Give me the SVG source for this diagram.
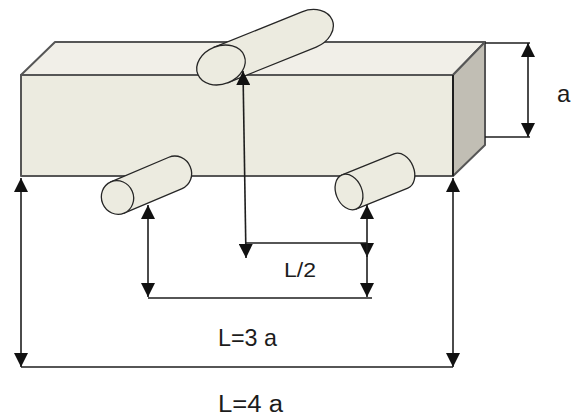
<svg xmlns="http://www.w3.org/2000/svg" width="576" height="418" viewBox="0 0 576 418">
  <style>
    .face { stroke: #565656; stroke-width: 2; stroke-linejoin: round; }
    .roll { fill: #ecebe0; stroke: #262626; stroke-width: 1.3; }
    .dim { fill: none; stroke: #1e1e1e; stroke-width: 1.6; }
    .arr { marker-start: url(#ah); marker-end: url(#ah); }
    .arrEnd { marker-end: url(#ah); }
    .lbl { font-family: "Liberation Sans", Arial, sans-serif; fill: #1c1c1c; }
  </style>
  <defs>
    <marker id="ah" viewBox="0 0 14 14" refX="14" refY="7" markerWidth="14" markerHeight="14" markerUnits="userSpaceOnUse" orient="auto-start-reverse">
      <path d="M0,0 L14,7 L0,14 z" fill="#111"/>
    </marker>
  </defs>

  <rect width="576" height="418" fill="#fff"/>

  <!-- beam: top, right and front faces -->
  <g id="beam">
    <polygon class="face" points="21,75 55,42 485,42 453,75" fill="#f1efe8"/>
    <polygon class="face" points="453,75 485,42 485,145 453,176" fill="#c1beb4"/>
    <rect class="face" x="21" y="75" width="432" height="101" fill="#ecebe0"/>
    <line x1="453" y1="75" x2="453" y2="176" stroke="#111" stroke-width="1.6"/>
  </g>

  <!-- loading roller on top -->
  <g id="roller-top" transform="translate(221,65) rotate(-22)">
    <path class="roll" d="M0,-19 L95,-19 A25,19 0 0 1 95,19 L0,19 Z"/>
    <ellipse class="roll" cx="0" cy="0" rx="25" ry="19"/>
  </g>

  <!-- left support roller -->
  <g id="roller-left" transform="translate(117.5,197.5) rotate(-23)">
    <path class="roll" d="M0,-17 L63,-17 A16,17 0 0 1 63,17 L0,17 Z"/>
    <ellipse class="roll" cx="0" cy="0" rx="16" ry="17"/>
  </g>

  <!-- right support roller -->
  <g id="roller-right" transform="translate(349,192) rotate(-22)">
    <path class="roll" d="M0,-18.5 L56,-18.5 A13,18.5 0 0 1 56,18.5 L0,18.5 Z"/>
    <ellipse class="roll" cx="0" cy="0" rx="13" ry="18.5"/>
  </g>

  <!-- dimension lines -->
  <g id="connectors">
    <!-- height a -->
    <line class="dim" x1="485" y1="43" x2="530" y2="43"/>
    <line class="dim" x1="485" y1="137" x2="530" y2="137"/>
    <line class="dim arr" x1="528" y1="43" x2="528" y2="137" stroke="#6a6a6a"/>

    <!-- overall length 4a -->
    <line class="dim arr" x1="21" y1="367" x2="21" y2="178"/>
    <line class="dim arr" x1="453" y1="367" x2="453" y2="178"/>
    <line class="dim" x1="21" y1="367" x2="453" y2="367"/>

    <!-- span 3a -->
    <line class="dim arr" x1="148" y1="297" x2="148" y2="205"/>
    <line class="dim arr" x1="367" y1="257" x2="367" y2="205"/>
    <line class="dim arrEnd" x1="367" y1="243" x2="367" y2="297"/>
    <line class="dim" x1="148" y1="298" x2="372" y2="298"/>

    <!-- load position L/2 -->
    <line class="dim arr" x1="246" y1="258" x2="243" y2="71"/>
    <line class="dim" x1="246" y1="243" x2="367" y2="243"/>
  </g>

  <!-- labels -->
  <g id="labels">
    <text class="lbl" x="557" y="102" font-size="24">a</text>
    <text class="lbl" x="284" y="277" font-size="20" textLength="32" lengthAdjust="spacingAndGlyphs">L/2</text>
    <text class="lbl" x="218" y="346" font-size="24" textLength="59" lengthAdjust="spacingAndGlyphs">L=3 a</text>
    <text class="lbl" x="218" y="412" font-size="23" textLength="65" lengthAdjust="spacingAndGlyphs">L=4  a</text>
  </g>
</svg>
